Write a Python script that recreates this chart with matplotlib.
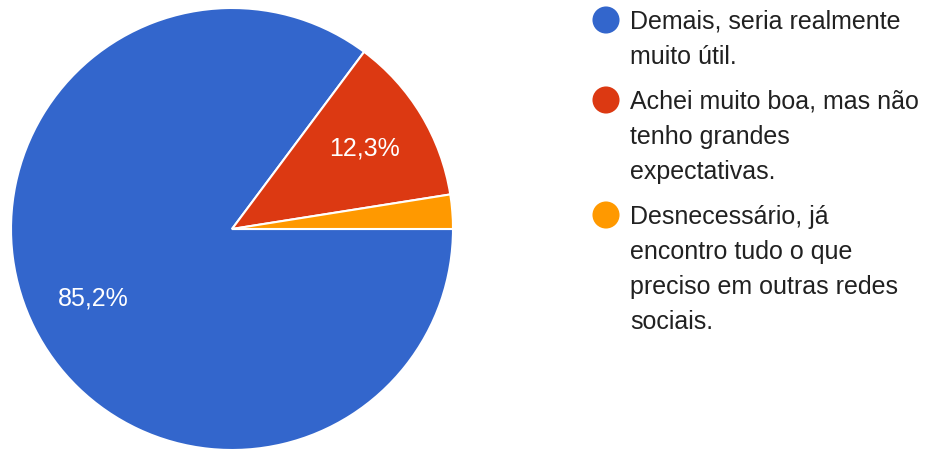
import matplotlib.pyplot as plt

# Respostas da pesquisa (percentual)
labels = [
    "Demais, seria realmente\nmuito útil.",
    "Achei muito boa, mas não\ntenho grandes\nexpectativas.",
    "Desnecessário, já\nencontro tudo o que\npreciso em outras redes\nsociais.",
]
values = [85.2, 12.3, 2.5]
colors = ["#3366CC", "#DC3912", "#FF9900"]

plt.rcParams["font.family"] = ["Liberation Sans", "DejaVu Sans"]

W, H = 941, 450
fig = plt.figure(figsize=(W / 100, H / 100), dpi=100)

# pizza: centro (232, 229) px, raio 221 px
cx, cy, r = 232, 229, 221
ax = fig.add_axes([(cx - r) / W, (H - cy - r) / H, 2 * r / W, 2 * r / H])


def fmt_pct(p):
    if p < 5:
        return ""
    return f"{p:.1f}%".replace(".", ",")


wedges, _, autotexts = ax.pie(
    values, colors=colors, startangle=0, counterclock=False,
    autopct=fmt_pct, pctdistance=0.7,
    wedgeprops=dict(edgecolor="white", linewidth=1.5),
    textprops=dict(color="white", fontsize=18),
)
ax.set_xlim(-1, 1)
ax.set_ylim(-1, 1)
ax.set_aspect("auto")
ax.axis("off")

# legenda desenhada à mão, em coordenadas de pixel
lax = fig.add_axes([0, 0, 1, 1])
lax.set_xlim(0, W)
lax.set_ylim(H, 0)
lax.axis("off")

y = 20
line_h = 35
for lab, col in zip(labels, colors):
    lax.scatter([606], [y], s=380, color=col, edgecolors="none")
    lines = lab.split("\n")
    for i, ln in enumerate(lines):
        lax.text(630, y + i * line_h + 9, ln, fontsize=18, color="#212121",
                 va="baseline", ha="left")
    y += len(lines) * line_h + 10

fig.savefig("out.png", dpi=100)
